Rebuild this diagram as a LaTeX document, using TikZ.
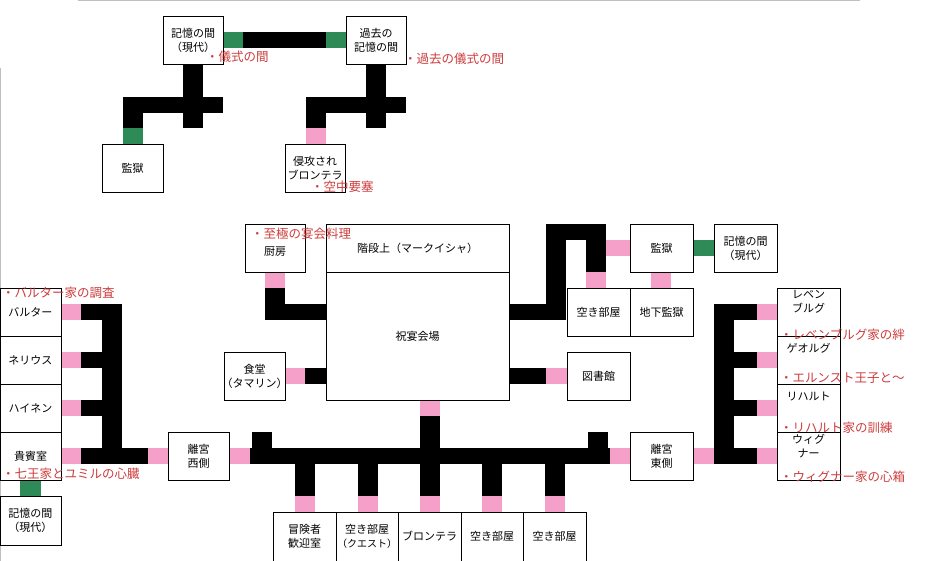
\documentclass[tikz,border=0pt]{standalone}
\usepackage{fontspec}
\setmainfont{Noto Sans CJK JP}
\definecolor{pk}{RGB}{244,160,200}
\definecolor{gr}{RGB}{46,139,87}
\definecolor{lbl}{RGB}{205,60,60}
\newcommand\blk[4]{\fill[black] (#1,#2) rectangle (#3,#4);}
\newcommand\pnk[4]{\fill[pk] (#1,#2) rectangle (#3,#4);}
\newcommand\grn[4]{\fill[gr] (#1,#2) rectangle (#3,#4);}
\newcommand\room[6]{\draw[roomline] (#2,#3) rectangle (#4,#5); \node[roomtxt] (#1) at ({(#2+#4)/2},{(#3+#5)/2}) {#6};}
\newcommand\lab[4]{\node[labtxt] (#1) at (#2,#3) {・#4};}
\begin{document}
\begin{tikzpicture}[x=1pt,y=-1pt,
  roomline/.style={draw=black,line width=0.9pt},
  roomtxt/.style={align=center,font=\fontsize{11}{14}\selectfont,inner sep=0pt},
  labtxt/.style={anchor=west,text=lbl,font=\fontsize{12.5}{14}\selectfont,inner sep=0pt}]
\useasboundingbox (0,0) rectangle (944,561);
\draw[gray!50,line width=1pt] (78,0.5) -- (860,0.5);
\draw[gray!50,line width=1pt] (0.5,68) -- (0.5,561);
% top section
\grn{223}{32}{243}{48}\blk{243}{32}{326}{48}\grn{326}{32}{346}{48}
\blk{183}{64}{203}{128}\blk{123}{97}{223}{113}\blk{123}{97}{143}{128}\grn{123}{128}{143}{144}
\blk{366}{64}{386}{128}\blk{306}{97}{406}{113}\blk{306}{97}{326}{128}\pnk{306}{128}{326}{144}
\room{m1}{163}{16}{223}{64}{記憶の間\\（現代）}
\room{m2}{346}{16}{406}{64}{過去の\\記憶の間}
\room{k1}{102}{144}{163}{192}{監獄}
\room{sb}{285}{144}{345}{192}{侵攻され\\ブロンテラ}
\lab{l1}{206}{57}{儀式の間}
\lab{l2}{404}{59}{過去の儀式の間}
\lab{l3}{311}{187}{空中要塞}
% middle
\pnk{265}{272}{285}{288}\blk{265}{288}{285}{320}\blk{265}{304}{326}{320}
\pnk{285}{368}{305}{384}\blk{305}{368}{326}{384}
\blk{509}{304}{566}{320}\blk{546}{224}{566}{320}\blk{546}{224}{606}{240}\blk{586}{224}{606}{272}
\pnk{586}{272}{606}{288}\pnk{606}{240}{630}{256}\pnk{651}{272}{671}{288}\grn{693}{240}{714}{256}
\blk{509}{368}{546}{384}\pnk{546}{368}{567}{384}
\pnk{420}{400}{440}{416}\blk{420}{416}{440}{448}
\room{kit}{245}{224}{305}{272}{\\[2pt]厨房}
\room{up}{326}{224}{509}{272}{階段上（マークイシャ）}
\room{hall}{326}{272}{509}{400}{祝宴会場}
\room{din}{224}{352}{285}{400}{食堂\\（タマリン）}
\room{e1}{567}{288}{630}{336}{空き部屋}
\room{ug}{630}{288}{693}{336}{地下監獄}
\room{k2}{630}{224}{693}{272}{監獄}
\room{m3}{714}{224}{777}{272}{記憶の間\\（現代）}
\room{lib}{567}{352}{630}{400}{図書館}
\lab{l4}{251}{234}{至極の宴会料理}
% left column
\foreach \y in {304,352,400,448} {\pnk{61}{\y}{81}{\y+16}\blk{81}{\y}{102}{\y+16}}
\blk{102}{304}{122}{464}\blk{81}{448}{148}{464}\pnk{148}{448}{168}{464}
\pnk{229}{448}{250}{464}\grn{20}{480}{41}{496}
\room{b1}{0}{288}{61}{336}{バルター}
\room{b2}{0}{336}{61}{384}{ネリウス}
\room{b3}{0}{384}{61}{432}{ハイネン}
\room{b4}{0}{432}{61}{480}{貴賓室}
\room{m4}{0}{496}{61}{545}{記憶の間\\（現代）}
\room{wr}{168}{432}{229}{480}{離宮\\西側}
\lab{l5}{2}{293}{バルター家の調査}
\lab{l6}{2}{474}{七王家とユミルの心臓}
% corridor
\blk{250}{448}{610}{464}\blk{252}{432}{272}{448}\blk{588}{432}{608}{448}
\foreach \x in {295,358,420,482,545} {\blk{\x}{464}{\x+20}{496}\pnk{\x}{496}{\x+20}{512}}
\pnk{610}{448}{630}{464}\pnk{693}{448}{714}{464}
\room{r1}{273}{512}{336}{561}{冒険者\\歓迎室}
\room{r2}{336}{512}{398}{561}{空き部屋\\{\fontsize{10}{12}\selectfont（クエスト）}}
\room{r3}{398}{512}{461}{561}{ブロンテラ}
\room{r4}{461}{512}{523}{561}{空き部屋}
\room{r5}{523}{512}{586}{561}{空き部屋}
\room{er}{630}{432}{693}{480}{離宮\\東側}
% right column
\blk{714}{304}{734}{464}
\foreach \y in {304,352,400,448} {\blk{734}{\y}{757}{\y+16}\pnk{757}{\y}{777}{\y+16}}
\room{c1}{777}{288}{840}{336}{レベン\\ブルグ\\[8pt]}
\room{c2}{777}{336}{840}{384}{ゲオルグ\\[10pt]}
\room{c3}{777}{384}{840}{432}{リハルト\\[10pt]}
\room{c4}{777}{432}{840}{480}{ウィグ\\ナー\\[6pt]}
\lab{l7}{780}{335}{レベンブルグ家の絆}
\lab{l8}{780}{378}{エルンスト王子と～}
\lab{l9}{780}{428}{リハルト家の訓練}
\lab{l10}{780}{477}{ウィグナー家の心箱}
\end{tikzpicture}
\end{document}
